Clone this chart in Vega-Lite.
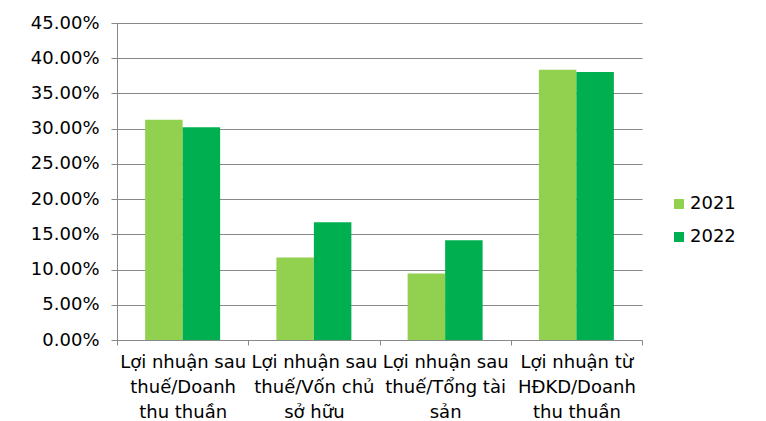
{
  "$schema": "https://vega.github.io/schema/vega-lite/v6.json",
  "width": 525,
  "height": 317,
  "autosize": "none",
  "padding": {"left": 117, "top": 23, "right": 124, "bottom": 81},
  "background": "white",
  "config": {
    "view": {"stroke": null},
    "font": "DejaVu Sans",
    "axis": {
      "labelFont": "DejaVu Sans",
      "labelFontSize": 18,
      "labelColor": "#000000",
      "domainColor": "#888888",
      "tickColor": "#888888",
      "gridColor": "#888888",
      "domainWidth": 1,
      "tickWidth": 1,
      "gridWidth": 1
    }
  },
  "data": {
    "values": [
      {"metric": "Lợi nhuận sau|thuế/Doanh|thu thuần", "year": "2021", "value": 0.3125},
      {"metric": "Lợi nhuận sau|thuế/Doanh|thu thuần", "year": "2022", "value": 0.302},
      {"metric": "Lợi nhuận sau|thuế/Vốn chủ|sở hữu", "year": "2021", "value": 0.117},
      {"metric": "Lợi nhuận sau|thuế/Vốn chủ|sở hữu", "year": "2022", "value": 0.167},
      {"metric": "Lợi nhuận sau|thuế/Tổng tài|sản", "year": "2021", "value": 0.0945},
      {"metric": "Lợi nhuận sau|thuế/Tổng tài|sản", "year": "2022", "value": 0.1415},
      {"metric": "Lợi nhuận từ|HĐKD/Doanh|thu thuần", "year": "2021", "value": 0.3835},
      {"metric": "Lợi nhuận từ|HĐKD/Doanh|thu thuần", "year": "2022", "value": 0.3805}
    ]
  },
  "mark": {"type": "bar"},
  "encoding": {
    "x": {
      "field": "metric",
      "type": "nominal",
      "sort": null,
      "scale": {"paddingInner": 0, "paddingOuter": 0},
      "axis": {
        "title": null,
        "labelAngle": 0,
        "tickBand": "extent",
        "labelAlign": "center",
        "labelBaseline": "top",
        "labelExpr": "split(datum.label, '|')",
        "labelLineHeight": 25,
        "labelPadding": 8,
        "tickSize": 5,
        "grid": false
      }
    },
    "xOffset": {
      "field": "year",
      "type": "nominal",
      "scale": {"paddingOuter": 0.75, "paddingInner": 0}
    },
    "y": {
      "field": "value",
      "type": "quantitative",
      "scale": {"domain": [0, 0.45], "nice": false},
      "axis": {
        "title": null,
        "format": ".2%",
        "values": [0, 0.05, 0.1, 0.15, 0.2, 0.25, 0.3, 0.35, 0.4, 0.45],
        "tickSize": 6,
        "labelPadding": 12,
        "grid": true
      }
    },
    "color": {
      "field": "year",
      "type": "nominal",
      "scale": {"domain": ["2021", "2022"], "range": ["#92D050", "#00B050"]},
      "legend": {
        "title": null,
        "orient": "none",
        "legendX": 553,
        "legendY": 172,
        "symbolType": "square",
        "symbolSize": 100,
        "symbolStrokeWidth": 0,
        "labelFont": "DejaVu Sans",
        "labelFontSize": 18,
        "labelColor": "#000000",
        "labelOffset": 2,
        "rowPadding": 15
      }
    }
  }
}
